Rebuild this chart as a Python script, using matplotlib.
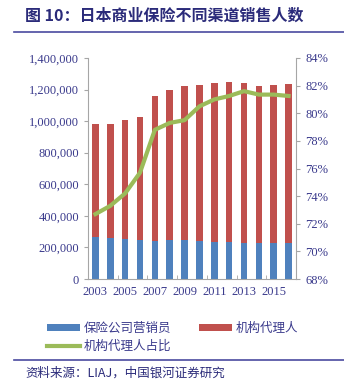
import matplotlib.pyplot as plt
import numpy as np

plt.rcParams['font.family'] = ['Liberation Serif', 'Noto Sans CJK SC']

years = [2003, 2004, 2005, 2006, 2007, 2008, 2009, 2010, 2011, 2012, 2013, 2014, 2015, 2016]
total = [980000, 982000, 1005000, 1024000, 1157000, 1197000, 1220000, 1229000,
         1242000, 1246000, 1244000, 1220000, 1229000, 1237000]
yingxiao = [264000, 262000, 255000, 245000, 241000, 245000, 249000, 239000,
            234000, 232000, 226000, 226000, 226000, 230000]
daili = [t - b for t, b in zip(total, yingxiao)]
zhanbi = [72.7, 73.3, 74.2, 75.7, 78.8, 79.3, 79.5, 80.5, 81.0, 81.25, 81.6, 81.35, 81.35, 81.25]

blue = '#4f81bd'
red = '#c0504d'
green = '#9bbb59'
txt = '#3a3a8c'
grey = '#a6a6a6'

fig = plt.figure(figsize=(3.44, 3.83), dpi=100)
W, H = 344, 383
ax = fig.add_axes([88 / W, 1 - 279 / H, (296 - 88) / W, (279 - 58) / H])
x = np.arange(len(years))
ax.bar(x, yingxiao, width=0.45, color=blue, label='保险公司营销员')
ax.bar(x, daili, width=0.45, bottom=yingxiao, color=red, label='机构代理人')
ax.set_xlim(-0.5, len(years) - 0.5)
ax.set_ylim(0, 1400000)
ax.set_yticks(np.arange(0, 1400001, 200000))
ax.set_yticklabels([f'{v:,}' for v in range(0, 1400001, 200000)])
ax.set_xticks(x[::2])
ax.set_xticklabels([str(y) for y in years[::2]])
ax.set_xticks(np.arange(-0.5, len(years), 2), minor=True)
ax.tick_params(axis='x', which='major', length=0, colors=txt, labelsize=9, pad=5)
ax.tick_params(axis='x', which='minor', length=3, direction='in', color=grey)
ax.tick_params(axis='y', length=3, color=grey, labelcolor=txt, labelsize=9)
for s in ['top', 'right']:
    ax.spines[s].set_visible(False)
for s in ['left', 'bottom']:
    ax.spines[s].set_color(grey)

ax2 = ax.twinx()
ax2.plot(x, zhanbi, color=green, lw=3, label='机构代理人占比')
ax2.set_ylim(68, 84)
ax2.set_yticks(np.arange(68, 85, 2))
ax2.set_yticklabels([f'{v}%' for v in range(68, 85, 2)])
ax2.tick_params(axis='y', length=3, color=grey, labelcolor=txt, labelsize=9)
for s in ['top', 'left', 'bottom']:
    ax2.spines[s].set_visible(False)
ax2.spines['right'].set_color(grey)

# 标题
fig.text(25 / W, 1 - 16 / H, '图 10：日本商业保险不同渠道销售人数', family=['Noto Sans CJK SC'],
         fontsize=11.5, fontweight='bold', color='#2b2b7a', va='center')
fig.add_artist(plt.Line2D([14 / W, 1], [1 - 32 / H] * 2, color='#4a4aa0', lw=1.2))

# 图例: 第一行 蓝、红，第二行 绿
h1, l1 = ax.get_legend_handles_labels()
h2, l2 = ax2.get_legend_handles_labels()
leg = fig.legend([h1[0], h2[0], h1[1]], [l1[0], l2[0], l1[1]], ncol=2, loc='upper left',
                 bbox_to_anchor=(36 / W, 1 - 311 / H),
                 frameon=False, prop={'family': 'Noto Sans CJK SC', 'size': 9},
                 handlelength=2.6, handleheight=0.5, columnspacing=2.2, labelspacing=0.35,
                 handletextpad=0.35)
for t in leg.get_texts():
    t.set_color(txt)

fig.add_artist(plt.Line2D([14 / W, 1], [1 - 360 / H] * 2, color='#4a4aa0', lw=1.2))
fig.text(25 / W, 1 - 373 / H, '资料来源：LIAJ，中国银河证券研究', family=['Noto Sans CJK SC'],
         fontsize=9, style='italic', color='#2b2b7a', va='center')

fig.savefig('out.png', dpi=100)
